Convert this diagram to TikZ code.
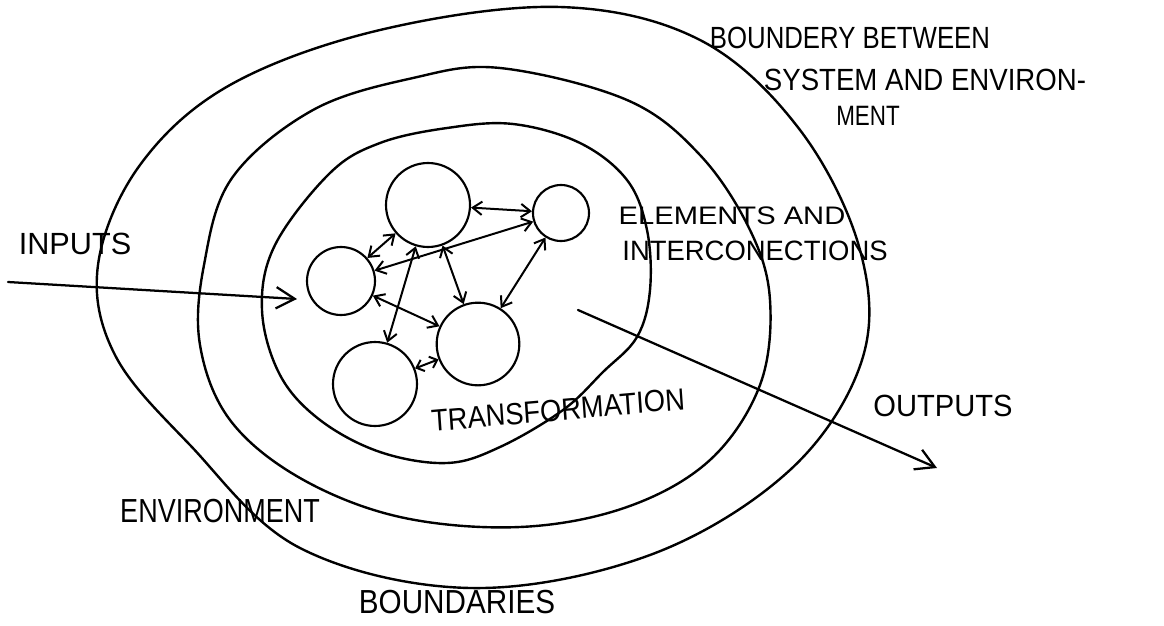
\documentclass[tikz,border=0pt]{standalone}
\usepackage{fontspec}
\setmainfont{Liberation Sans}
\usetikzlibrary{arrows.meta}
\begin{document}
\begin{tikzpicture}[x=0.75pt,y=-0.75pt,line cap=round,line join=round,
  ring/.style={draw,line width=1.8pt},
  elem/.style={circle,draw,line width=1.6pt,inner sep=0pt},
  link/.style={{Straight Barb[length=7pt,width=10pt]}-{Straight Barb[length=7pt,width=10pt]},line width=1.5pt},
  shortlink/.style={{Straight Barb[length=5pt,width=9pt]}-{Straight Barb[length=5pt,width=9pt]},line width=1.5pt},
  flow/.style={-{Straight Barb[length=14pt,width=16pt]},line width=1.7pt},
  hand/.style={inner sep=0pt,font=\fontsize{23}{23}\selectfont}]
\useasboundingbox (0,0) rectangle (1164,625);
% boundaries
\draw[ring] plot[smooth cycle,tension=0.6] coordinates {(560,7) (700,40) (800,130) (860,250) (862,360) (790,470) (650,555) (470,588) (300,548) (190,445) (115,355) (98,265) (140,165) (230,85) (380,30)};
\draw[ring] plot[smooth cycle,tension=0.6] coordinates {(500,68) (627,100) (700,155) (750,230) (770,300) (760,385) (710,460) (627,507) (520,527) (400,517) (300,478) (230,420) (200,345) (204,265) (232,178) (313,110) (413,78)};
\draw[ring] plot[smooth cycle,tension=0.6] coordinates {(513,124) (580,143) (627,180) (647,230) (650,290) (637,337) (603,372) (563,410) (500,447) (447,463) (380,452) (320,420) (280,375) (262,310) (275,245) (330,173) (380,143) (447,128)};
% elements
\node[elem,minimum size=63pt] (c1) at (428,205) {};
\node[elem,minimum size=42pt] (c2) at (561,213) {};
\node[elem,minimum size=51pt] (c3) at (341,281) {};
\node[elem,minimum size=62pt] (c4) at (478,344) {};
\node[elem,minimum size=63pt] (c5) at (375,384) {};
% interconnections
\draw[link] (c1) -- (c2);
\draw[link] (c1) -- (c3);
\draw[link] (c3) -- (c2);
\draw[link] (c1) -- (c5);
\draw[link] (c1) -- (c4);
\draw[link] (c2) -- (c4);
\draw[link] (c3) -- (c4);
\draw[shortlink] (c5) -- (c4);
% inputs / outputs
\coordinate (inStart) at (8,282);
\coordinate (inEnd) at (297,299);
\coordinate (outStart) at (578,310);
\coordinate (outEnd) at (937,468);
\draw[flow] (inStart) -- (inEnd);
\draw[flow] (outStart) -- (outEnd);
% labels
\node[hand,xscale=0.84] (tBound) at (850,38) {BOUNDERY BETWEEN};
\node[hand,xscale=0.9] (tSys) at (925,80) {SYSTEM AND ENVIRON-};
\node[hand,xscale=0.8,font=\fontsize{21}{21}\selectfont] (tMent) at (868,116) {MENT};
\node[hand,xscale=1.15,font=\fontsize{19}{19}\selectfont] (tElem) at (732,216) {ELEMENTS AND};
\node[hand,xscale=0.98,font=\fontsize{21}{21}\selectfont] (tInter) at (755,251) {INTERCONECTIONS};
\node[hand] (tIn) at (75,244) {INPUTS};
\node[hand,xscale=0.89,rotate=4.5] (tTrans) at (558,410) {TRANSFORMATION};
\node[hand,xscale=0.95] (tOut) at (943,406) {OUTPUTS};
\node[hand,xscale=0.81,font=\fontsize{25}{25}\selectfont] (tEnv) at (220,511) {ENVIRONMENT};
\node[hand,xscale=0.89,font=\fontsize{25}{25}\selectfont] (tBdr) at (457,602) {BOUNDARIES};
\end{tikzpicture}
\end{document}
